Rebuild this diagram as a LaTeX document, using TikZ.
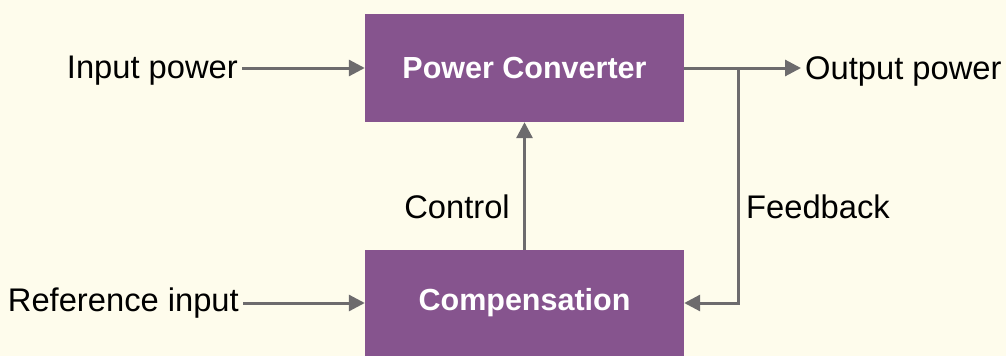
\documentclass[tikz,border=0pt]{standalone}
\usepackage{fontspec}
\setmainfont{Liberation Sans}
\usetikzlibrary{arrows.meta}
\definecolor{cream}{HTML}{FEFCEC}
\definecolor{plum}{HTML}{86548E}
\definecolor{wire}{HTML}{6D6B6D}
\tikzset{
  block/.style={fill=plum, text=white, minimum width=319pt, font=\fontsize{30.5}{35}\selectfont\bfseries},
  lbl/.style={text=black, font=\fontsize{32.7}{38}\selectfont, inner sep=4pt},
  link/.style={draw=wire, line width=3pt, -{Triangle[length=16pt,width=16pt]}}
}
\begin{document}
\begin{tikzpicture}[x=1pt,y=-1pt]
    \fill[cream] (0,0) rectangle (1006,356);
    \node[block, minimum height=108pt] (conv) at (524.5,68) {Power Converter};
    \node[block, minimum height=106pt] (comp) at (524.5,303) {Compensation};
    \node[lbl, anchor=east] (inp) at (242,71) {Input power};
    \node[lbl, anchor=west] (outp) at (801,71) {Output power};
    \node[lbl, anchor=east] (ref) at (243,303) {Reference input};
    \node[lbl] (ctl) at (457,207) {Control};
    \node[lbl] (fbl) at (818,207) {Feedback};
    \coordinate (fb) at (738,68);

    \draw[link] (inp.east |- conv.west) -- (conv.west);
    \draw[link] (conv.east) -- (outp.west |- conv.east);
    \draw[link] (ref.east |- comp.west) -- (comp.west);
    \draw[link] (comp.north) -- (conv.south);
    \draw[link] (fb) |- (comp.east);
\end{tikzpicture}
\end{document}
